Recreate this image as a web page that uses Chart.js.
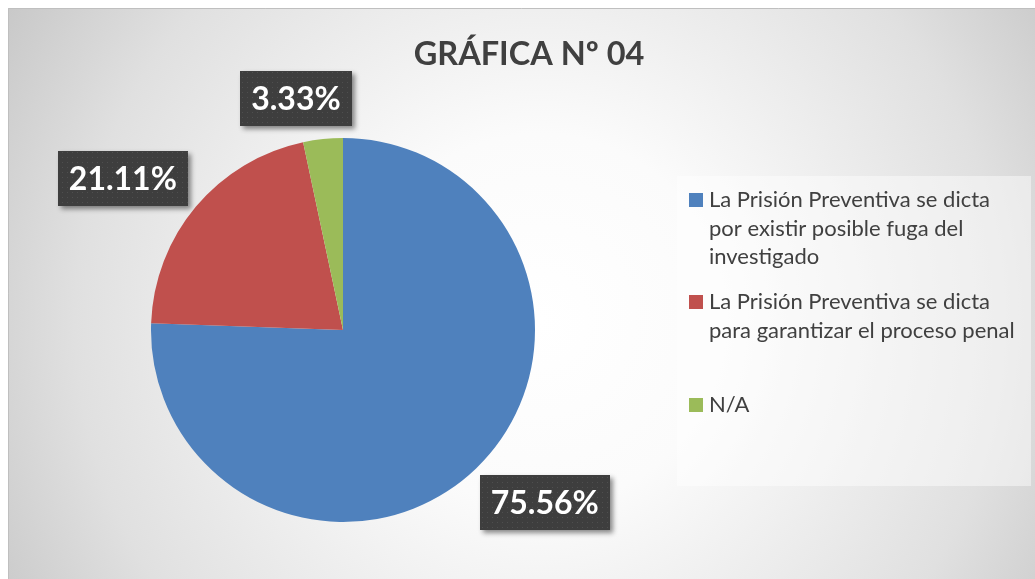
<!DOCTYPE html>
<html>
<head>
<meta charset="utf-8">
<script src="https://cdn.jsdelivr.net/npm/chart.js@4"></script>
<style>
  html, body { margin: 0; padding: 0; background: #ffffff; }
  #wrap { width: 1035px; height: 579px; position: relative; }
</style>
</head>
<body>
<div id="wrap"><canvas id="chart"></canvas></div>
<script>
// chart data
const chartTitle = 'GRÁFICA Nº 04';
const categories = [
    ['La Prisión Preventiva se dicta', 'por existir posible fuga del', 'investigado'],
    ['La Prisión Preventiva se dicta', 'para garantizar el proceso penal'],
    ['N/A']
];
const percentages = [75.56, 21.11, 3.33];
const sliceColors = ['#4f81bd', '#c0504d', '#9bbb59'];

const FONT = 'Lato, "Open Sans", sans-serif';

// dotted fill used by the label boxes
function makeDotPattern(ctx) {
    const tile = document.createElement('canvas');
    tile.width = 5;
    tile.height = 5;
    const t = tile.getContext('2d');
    t.fillStyle = '#3e3e3e';
    t.fillRect(0, 0, 5, 5);
    t.fillStyle = '#4f4f4f';
    t.fillRect(2, 2, 1, 1);
    return ctx.createPattern(tile, 'repeat');
}

// background, border and title
const backgroundPlugin = {
    id: 'backgroundPlugin',
    beforeDraw(chart) {
        const ctx = chart.ctx;
        const w = chart.width, h = chart.height;
        ctx.save();
        ctx.fillStyle = '#ffffff';
        ctx.fillRect(0, 0, w, h);
        const g = ctx.createRadialGradient(540, 320, 0, 540, 320, 620);
        g.addColorStop(0, '#ffffff');
        g.addColorStop(0.3, '#fbfbfb');
        g.addColorStop(0.75, '#e0e0e0');
        g.addColorStop(1, '#c8c8c8');
        ctx.fillStyle = g;
        ctx.fillRect(8, 8, w - 8, h - 8);
        ctx.strokeStyle = '#bfbfbf';
        ctx.lineWidth = 1;
        ctx.beginPath();
        ctx.moveTo(8.5, h);
        ctx.lineTo(8.5, 8.5);
        ctx.lineTo(w, 8.5);
        ctx.stroke();

        ctx.fillStyle = '#404040';
        ctx.font = 'bold 32.5px ' + FONT;
        ctx.textAlign = 'center';
        ctx.textBaseline = 'middle';
        ctx.fillText(chartTitle, 529, 55);
        ctx.restore();
    }
};

// legend box on the right
const legendPlugin = {
    id: 'legendPlugin',
    afterDraw(chart) {
        const ctx = chart.ctx;
        ctx.save();
        ctx.fillStyle = 'rgba(255,255,255,0.45)';
        ctx.fillRect(677, 176, 354, 310);
        ctx.font = '22px ' + FONT;
        ctx.textAlign = 'left';
        ctx.textBaseline = 'middle';
        const lineH = 28.5;
        const itemTops = [200, 302, 405];
        categories.forEach((lines, i) => {
            const y0 = itemTops[i];
            ctx.fillStyle = sliceColors[i];
            ctx.fillRect(689, y0 - 7, 14, 14);
            ctx.fillStyle = '#404040';
            lines.forEach((line, j) => {
                ctx.fillText(line, 709, y0 + j * lineH);
            });
        });
        ctx.restore();
    }
};

// percentage labels in dark boxes outside the slices
const labelPlugin = {
    id: 'labelPlugin',
    afterDatasetsDraw(chart) {
        const ctx = chart.ctx;
        const meta = chart.getDatasetMeta(0);
        const pattern = makeDotPattern(ctx);
        ctx.save();
        ctx.font = 'bold 32px ' + FONT;
        meta.data.forEach((arc, i) => {
            const p = arc.getProps(['x', 'y', 'startAngle', 'endAngle', 'outerRadius'], true);
            // labels sit a little counter-clockwise of the slice middle
            const mid = (p.startAngle + p.endAngle) / 2 - 5.5 * Math.PI / 180;
            const text = percentages[i].toFixed(2) + '%';
            const bw = ctx.measureText(text).width + 22;
            const bh = 55;
            const cos = Math.cos(mid), sin = Math.sin(mid);
            const d = p.outerRadius + Math.abs(bw / 2 * cos) + Math.abs(bh / 2 * sin) + 6;
            const cx = p.x + d * cos;
            const cy = p.y + d * sin;
            ctx.save();
            ctx.shadowColor = 'rgba(0,0,0,0.45)';
            ctx.shadowBlur = 5;
            ctx.shadowOffsetX = 3;
            ctx.shadowOffsetY = 3;
            ctx.fillStyle = pattern;
            ctx.fillRect(Math.round(cx - bw / 2), Math.round(cy - bh / 2), Math.round(bw), bh);
            ctx.restore();
            ctx.fillStyle = '#ffffff';
            ctx.textAlign = 'center';
            ctx.textBaseline = 'middle';
            ctx.fillText(text, cx, cy + 1);
        });
        ctx.restore();
    }
};

new Chart(document.getElementById('chart'), {
    type: 'pie',
    data: {
        labels: categories,
        datasets: [{
            data: percentages,
            backgroundColor: sliceColors,
            borderWidth: 0
        }]
    },
    options: {
        responsive: true,
        maintainAspectRatio: false,
        animation: false,
        layout: {
            padding: { left: 151, right: 500, top: 138, bottom: 57 }
        },
        plugins: {
            legend: { display: false },
            title: { display: false },
            tooltip: { enabled: false }
        }
    },
    plugins: [backgroundPlugin, labelPlugin, legendPlugin]
});
</script>
</body>
</html>
